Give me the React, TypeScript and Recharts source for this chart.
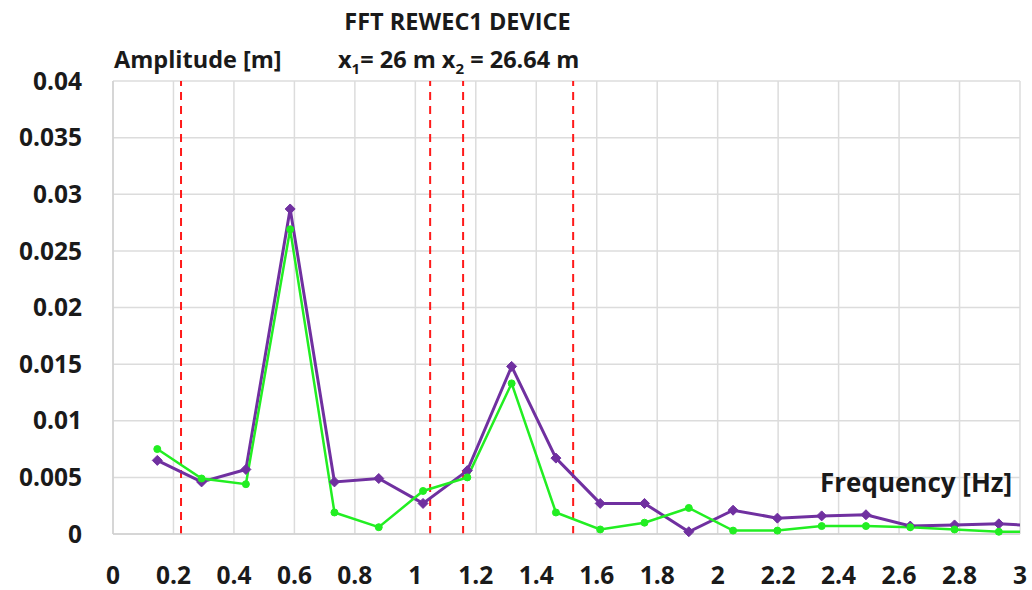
import { LineChart, Line, XAxis, YAxis, CartesianGrid, ReferenceLine } from "recharts"

const frequency = [0.1465, 0.293, 0.4395, 0.586, 0.7325, 0.879, 1.0255, 1.172, 1.3185, 1.465, 1.6115, 1.758, 1.9045, 2.051, 2.1975, 2.344, 2.4905, 2.637, 2.7835, 2.93, 3.0765]
const ampX1 = [0.0065, 0.0046, 0.0057, 0.0287, 0.0046, 0.0049, 0.0027, 0.0056, 0.0148, 0.0067, 0.0027, 0.0027, 0.0002, 0.0021, 0.0014, 0.0016, 0.0017, 0.0007, 0.0008, 0.0009, 0.0007]
const ampX2 = [0.0075, 0.0049, 0.0044, 0.0269, 0.0019, 0.0006, 0.0038, 0.005, 0.0133, 0.0019, 0.0004, 0.001, 0.0023, 0.0003, 0.0003, 0.0007, 0.0007, 0.0006, 0.0004, 0.0002, 0.0002]
const markers = [0.225, 1.049, 1.158, 1.522]
const xTicks = [0, 0.2, 0.4, 0.6, 0.8, 1, 1.2, 1.4, 1.6, 1.8, 2, 2.2, 2.4, 2.6, 2.8, 3]
const yTicks = [0, 0.005, 0.01, 0.015, 0.02, 0.025, 0.03, 0.035, 0.04]

const data = frequency.map((f, i) => ({ f, a: ampX1[i], b: ampX2[i] }))

const font = "'Open Sans', 'Noto Sans', sans-serif"
const tickStyle = { fontSize: 24.5, fontWeight: 700, fill: "#1a1a1a", fontFamily: font }

function Diamond(props: any) {
  const { cx, cy, index } = props
  if (cx == null || cy == null) return <g key={index} />
  const s = 5
  return (
    <polygon
      key={index}
      points={`${cx},${cy - s} ${cx + s},${cy} ${cx},${cy + s} ${cx - s},${cy}`}
      fill="#7030A0"
      stroke="#7030A0"
    />
  )
}

const label = (extra: React.CSSProperties): React.CSSProperties => ({
  position: "absolute",
  fontFamily: font,
  fontWeight: 700,
  fontSize: 23.5,
  color: "#1a1a1a",
  whiteSpace: "nowrap",
  lineHeight: 1,
  ...extra,
})

export default function App() {
  return (
    <div style={{ position: "absolute", left: 0, top: 0, width: 1032, height: 590, background: "#fff" }}>
      <LineChart width={1032} height={590} data={data} margin={{ top: 81, right: 12, left: 0, bottom: 0 }}>
        <CartesianGrid stroke="#dcdcdc" strokeWidth={1.5} horizontalValues={yTicks} verticalValues={xTicks} />
        <XAxis
          dataKey="f"
          type="number"
          domain={[0, 3]}
          ticks={xTicks}
          allowDataOverflow
          height={56}
          tickSize={0}
          tickMargin={33}
          axisLine={{ stroke: "#d0d0d0", strokeWidth: 1.5 }}
          tick={tickStyle}
          interval={0}
        />
        <YAxis
          type="number"
          domain={[0, 0.04]}
          ticks={yTicks}
          width={113}
          tickSize={0}
          tickMargin={31}
          axisLine={{ stroke: "#d0d0d0", strokeWidth: 1.5 }}
          tick={tickStyle}
          interval={0}
        />
        {markers.map((m) => (
          <ReferenceLine key={m} x={m} stroke="#ff1a1a" strokeWidth={2} strokeDasharray="8 6" />
        ))}
        <Line
          dataKey="a"
          stroke="#7030A0"
          strokeWidth={3}
          dot={Diamond}
          activeDot={false}
          isAnimationActive={false}
        />
        <Line
          dataKey="b"
          stroke="#22ee22"
          strokeWidth={2.5}
          dot={{ r: 3.5, fill: "#22ee22", stroke: "#22ee22", strokeWidth: 1 }}
          activeDot={false}
          isAnimationActive={false}
        />
      </LineChart>
      <div style={label({ left: 0, width: 915, top: 10, textAlign: "center" })}>FFT REWEC1 DEVICE</div>
      <div style={label({ left: 114, top: 48 })}>Amplitude [m]</div>
      <div style={label({ left: 338, top: 48 })}>
        x<sub style={{ fontSize: 15 }}>1</sub>= 26 m x<sub style={{ fontSize: 15 }}>2</sub> = 26.64 m
      </div>
      <div style={label({ left: 820, top: 469, fontSize: 26 })}>Frequency [Hz]</div>
    </div>
  )
}
